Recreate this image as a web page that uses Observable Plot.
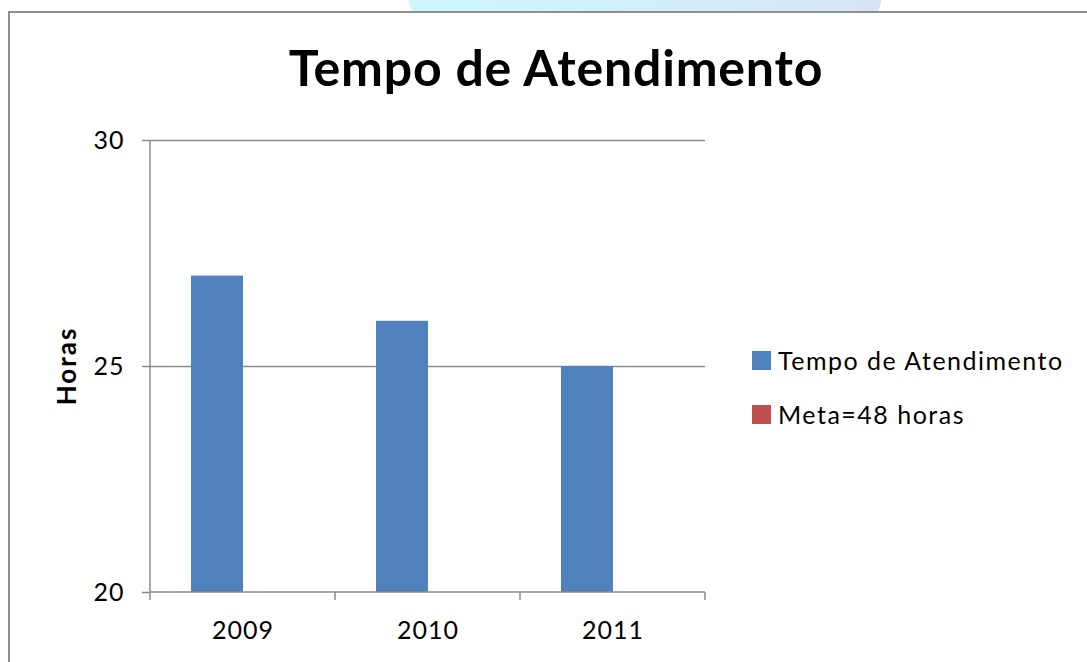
<!DOCTYPE html>
<html><head><meta charset="utf-8">
<script src="https://cdn.jsdelivr.net/npm/d3@7"></script>
<script src="https://cdn.jsdelivr.net/npm/@observablehq/plot@0.6"></script>
<style>
body{margin:0;background:#fff;font-family:Lato,sans-serif;}
#wrap{position:relative;width:1087px;height:662px;overflow:hidden;background:#fff;}
#blob{position:absolute;left:409px;top:-20px;width:472px;height:40px;border-radius:30px;background:linear-gradient(90deg,#cdf6ff,#d2eefc 55%,#d7e3f6);}
#frame{position:absolute;left:8px;top:11px;width:1200px;height:800px;border:2px solid #8f8f8f;background:#fff;}
#title{position:absolute;left:0;top:42px;width:1112px;text-align:center;font-weight:bold;font-size:50px;line-height:50px;letter-spacing:0.8px;color:#000;white-space:nowrap;}
#ylabel{position:absolute;left:66px;top:366px;transform:translate(-50%,-50%) rotate(-90deg);font-weight:bold;font-size:26px;letter-spacing:2px;white-space:nowrap;}
#chart{position:absolute;left:0;top:120px;}
#legend{position:absolute;left:752px;top:345px;font-size:25px;letter-spacing:1.5px;color:#000;}
.item{display:flex;align-items:center;height:30px;margin-bottom:24px;white-space:nowrap;}
.sw{width:19px;height:19px;margin-right:7px;flex:none;}
</style></head>
<body>
<div id="wrap">
  <div id="blob"></div>
  <div id="frame"></div>
  <div id="title"></div>
  <div id="ylabel"></div>
  <div id="chart"></div>
  <div id="legend"></div>
</div>
<script>
const title = "Tempo de Atendimento";
const yLabel = "Horas";
const years = ["2009", "2010", "2011"];
const seriesNames = ["Tempo de Atendimento", "Meta=48 horas"];
const tempo = [27, 26, 25];
const meta = [null, null, null];
const yTicks = [20, 25, 30];
const seriesColors = ["#4F81BD", "#C0504D"];

document.getElementById("title").textContent = title;
document.getElementById("ylabel").textContent = yLabel;

const rows = years.flatMap((y, i) => [
  {year: y, series: seriesNames[0], value: tempo[i]},
  {year: y, series: seriesNames[1], value: meta[i]}
]);
const yMin = yTicks[0];

const axisLines = (index, scales, values, dim) => {
  const g = d3.create("svg:g").attr("stroke", "#8c8c8c").attr("stroke-width", 1.5).attr("fill", "none");
  const x0 = dim.marginLeft, x1 = dim.width - dim.marginRight;
  const yb = dim.height - dim.marginBottom, yt = dim.marginTop;
  g.append("line").attr("x1", x0).attr("x2", x0).attr("y1", yt).attr("y2", yb);
  g.append("line").attr("x1", x0).attr("x2", x1).attr("y1", yb).attr("y2", yb);
  const n = years.length;
  for (let i = 0; i <= n; i++) {
    const x = x0 + i * (x1 - x0) / n;
    g.append("line").attr("x1", x).attr("x2", x).attr("y1", yb).attr("y2", yb + 8);
  }
  return g.node();
};

const chart = Plot.plot({
  width: 1087,
  height: 542,
  marginLeft: 149,
  marginRight: 382,
  marginTop: 20,
  marginBottom: 70,
  style: {fontFamily: "Lato, sans-serif", fontSize: "25px", color: "#000", background: "transparent", overflow: "visible", letterSpacing: "1px"},
  fx: {domain: years, padding: 0, label: null},
  x: {domain: seriesNames, paddingInner: 0, paddingOuter: 0.75, axis: null},
  y: {domain: [yTicks[0], yTicks[yTicks.length - 1]], label: null},
  color: {domain: seriesNames, range: seriesColors},
  marks: [
    Plot.gridY(yTicks.slice(1), {stroke: "#8c8c8c", strokeOpacity: 1, strokeWidth: 1.5}),
    Plot.barY(rows, {fx: "year", x: "series", y1: () => yMin, y2: "value", fill: "series"}),
    Plot.axisY(yTicks, {tickSize: 8, tickPadding: 18, stroke: "#8c8c8c", strokeWidth: 1.5, fill: "#000", label: null}),
    Plot.axisFx({anchor: "bottom", tickSize: 0, tickPadding: 29, fill: "#000", label: null}),
    Plot.frame({facet: "super", render: axisLines})
  ]
});
document.getElementById("chart").appendChild(chart);

const legend = document.getElementById("legend");
seriesNames.forEach((name, i) => {
  const it = document.createElement("div");
  it.className = "item";
  const sw = document.createElement("span");
  sw.className = "sw";
  sw.style.background = seriesColors[i];
  const t = document.createElement("span");
  t.textContent = name;
  it.appendChild(sw); it.appendChild(t);
  legend.appendChild(it);
});
</script>
</body></html>
